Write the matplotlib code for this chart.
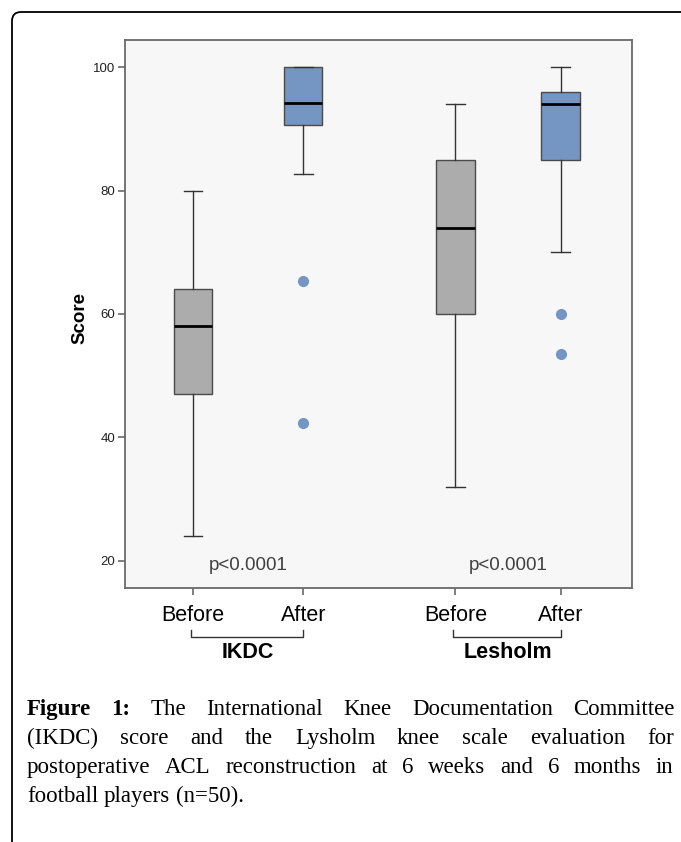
import matplotlib
matplotlib.use('Agg')
import matplotlib.pyplot as plt
from matplotlib.patches import FancyBboxPatch
from matplotlib.transforms import IdentityTransform

plt.rcParams['font.family'] = ['Liberation Sans', 'DejaVu Sans']

# box statistics (IKDC before/after, Lesholm before/after)
groups = ['IKDC', 'Lesholm']
times = ['Before', 'After']
q1 = [47, 90.7, 60, 85]
med = [58, 94.2, 74, 94]
q3 = [64, 100, 85, 96]
whislo = [24, 82.7, 32, 70]
whishi = [80, 100, 94, 100]
outliers = [[], [65.4, 42.4], [], [60, 53.5]]
p_text = ['p<0.0001', 'p<0.0001']

caption = [
    [('Figure', True), ('1:', True), ('The', False), ('International', False),
     ('Knee', False), ('Documentation', False), ('Committee', False)],
    [(w, False) for w in '(IKDC) score and the Lysholm knee scale evaluation for'.split()],
    [(w, False) for w in 'postoperative ACL reconstruction at 6 weeks and 6 months in'.split()],
    [(w, False) for w in 'football players (n=50).'.split()],
]

pos = [1, 2, 3.382, 4.336]
box_colors = ['#acacac', '#7596c3', '#acacac', '#7596c3']

W, H = 681, 842
fig = plt.figure(figsize=(W / 100, H / 100), dpi=100)
ax = fig.add_axes([125 / W, 1 - 588 / H, 507 / W, 548 / H])
ax.set_facecolor('#f7f7f7')

stats = []
for i in range(4):
    stats.append(dict(med=med[i], q1=q1[i], q3=q3[i], whislo=whislo[i],
                      whishi=whishi[i], fliers=outliers[i]))

bp = ax.bxp(stats, positions=pos, widths=0.35, capwidths=0.17, patch_artist=True,
            boxprops=dict(edgecolor='#4a4a4a', linewidth=1.0),
            medianprops=dict(color='black', linewidth=2.0),
            whiskerprops=dict(color='#333333', linewidth=1.0),
            capprops=dict(color='#333333', linewidth=1.0),
            flierprops=dict(marker='o', markerfacecolor='#7596c3',
                            markeredgecolor='#7596c3', markersize=7))
for patch, c in zip(bp['boxes'], box_colors):
    patch.set_facecolor(c)

ax.set_xlim(0.382, 4.985)
ax.set_ylim(15.6, 104.4)
ax.set_yticks([20, 40, 60, 80, 100])
ax.set_xticks(pos)
ax.set_xticklabels(times * 2, fontsize=15.5, color='black')
ax.tick_params(axis='y', labelsize=9.5, colors='#6a6a6a', labelcolor='#222222',
               length=5, width=1.2, pad=2)
ax.tick_params(axis='x', colors='#6a6a6a', labelcolor='black',
               length=5, width=1.2, pad=7)
for s in ax.spines.values():
    s.set_color('#6a6a6a')
    s.set_linewidth(1.3)

# p-values and group labels with brackets
xt = ax.get_xaxis_transform()
for g in range(2):
    a, b = pos[2 * g], pos[2 * g + 1]
    ax.text((a + b) / 2, 19.2, p_text[g], ha='center', va='center',
            fontsize=13.5, color='#404040')
    ax.plot([a - 0.02, a - 0.02, b, b], [-0.0766, -0.0894, -0.0894, -0.0766],
            transform=xt, clip_on=False, color='#333333', lw=1.0)
    ax.text((a + b) / 2, -0.1186, groups[g], transform=xt, ha='center',
            va='center', fontsize=15.5, fontweight='bold')

fig.text(80 / W, 1 - 318 / H, 'Score', rotation=90, ha='center', va='center',
         fontsize=13.5, fontweight='bold')

# outer frame (cropped rounded box)
frame = FancyBboxPatch((12, -60), 800, H - 12 + 60, boxstyle='round,pad=0,rounding_size=9',
                       transform=IdentityTransform(), facecolor='none',
                       edgecolor='black', linewidth=1.3)
fig.add_artist(frame)

# justified caption, words placed one by one on a common baseline
renderer = fig.canvas.get_renderer()
baselines = [715, 744, 773, 802]
x0, x1 = 27, 674
cap_size = 16.5
for li, line in enumerate(caption):
    items = []
    for w, bold in line:
        t = fig.text(0, 0, w, fontsize=cap_size, family='Liberation Serif',
                     fontweight='bold' if bold else 'normal',
                     transform=IdentityTransform(), va='baseline', ha='left')
        items.append((t, t.get_window_extent(renderer).width))
    total = sum(wd for _, wd in items)
    if li == len(caption) - 1:
        gap = cap_size * 1.389 * 0.25
    else:
        gap = (x1 - x0 - total) / (len(items) - 1)
    x = x0
    for t, wd in items:
        t.set_position((round(x), H - baselines[li]))
        x += wd + gap

fig.savefig('out.png', dpi=100)
